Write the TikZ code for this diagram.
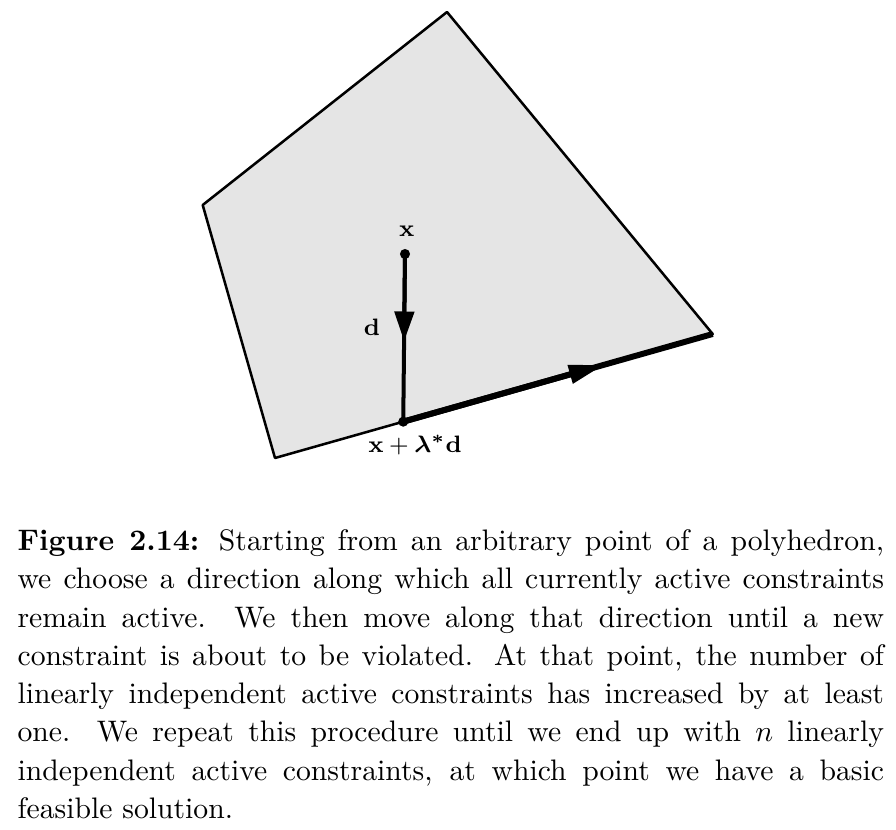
\documentclass[tikz,border=0pt]{standalone}
\usepackage{bm}
\usetikzlibrary{arrows.meta,calc}
\begin{document}
\begin{tikzpicture}[x=0.337pt,y=-0.337pt,
  bord/.style={line width=0.85pt,line join=round},
  tige/.style={line width=1.35pt},
  face/.style={line width=2pt},
  fleche/.style={-{Triangle[length=10pt,width=6.5pt]}},
  etiq/.style={font=\fontsize{8}{9.6}\selectfont}]
  \useasboundingbox (0,0) rectangle (896,830);
  % sommets du polyedre
  \coordinate (a) at (202.7,205);
  \coordinate (b) at (447,12);
  \coordinate (c) at (712.7,334);
  \coordinate (d) at (275,458);
  \fill[black!10] (a) -- (b) -- (c) -- (d) -- cycle;
  \draw[bord] (a) -- (b) -- (c) -- (d) -- cycle;
  % point x et point x+lambda*d sur l'arete
  \coordinate (x) at (405,254);
  \coordinate (y) at ($(d)!0.293!(c)$);
  \draw[tige] (x) -- (y);
  \draw[tige,fleche] (x) -- ($(x)!0.52!(y)$); % direction d
  % deplacement le long de l'arete
  \draw[face] (y) -- (c);
  \draw[face,-{Triangle[length=12pt,width=6pt]}] (y) -- ($(y)!0.65!(c)$);
  \fill (x) circle (1.7pt);
  \fill (y) circle (1.7pt);
  % etiquettes
  \node[etiq] (lx) at (406.7,231.7) {$\mathbf{x}$};
  \node[etiq] (ld) at (372,327) {$\mathbf{d}$};
  \node[etiq] (ly) at (415,445) {$\mathbf{x}+\bm{\lambda}^{\bm{*}}\mathbf{d}$};
  % legende
  \node[anchor=north west,inner sep=0pt,text width=292pt,align=justify,
    font=\fontsize{10}{12.9}\selectfont] (legende) at (17,529)
    {\textbf{Figure 2.14:} Starting from an arbitrary point of a polyhedron,\linebreak
    we choose a direction along which all currently active constraints\linebreak
    remain active.  We then move along that direction until a new\linebreak
    constraint is about to be violated.  At that point, the number of\linebreak
    linearly independent active constraints has increased by at least\linebreak
    one.  We repeat this procedure until we end up with $n$ linearly\linebreak
    independent active constraints, at which point we have a basic\linebreak
    feasible solution.};
\end{tikzpicture}
\end{document}
